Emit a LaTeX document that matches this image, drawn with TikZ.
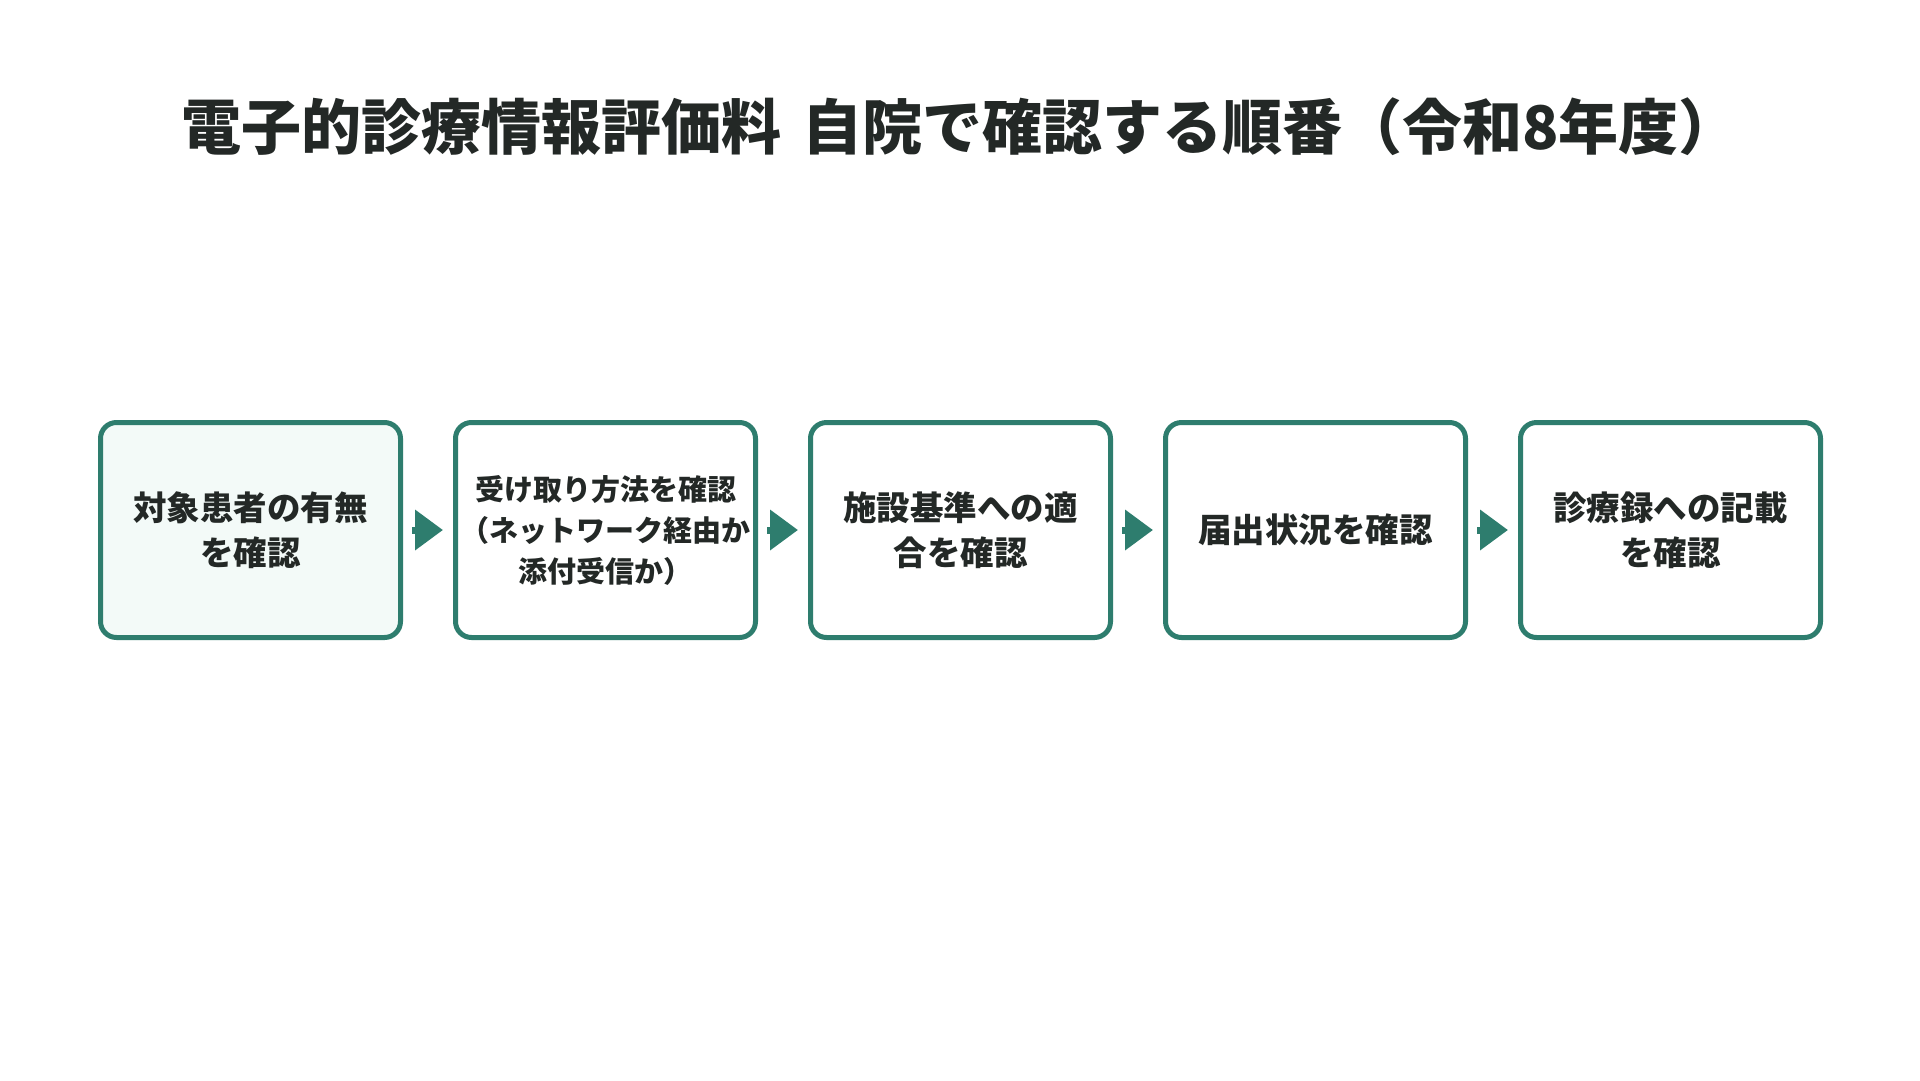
\documentclass[tikz,border=0pt]{standalone}
\usepackage{fontspec}
\setmainfont{Noto Sans CJK JP}
\usetikzlibrary{arrows.meta}
\definecolor{flowgreen}{HTML}{2E7D6E}
\definecolor{firstfill}{HTML}{F3FAF8}
\definecolor{inkgray}{HTML}{232826}
\tikzset{
  stepbox/.style={draw=flowgreen, line width=5pt, rounded corners=16pt, fill=white,
    minimum width=300pt, minimum height=215pt, align=center, text=inkgray,
    font=\fontsize{33.5}{45}\selectfont\bfseries},
  box1/.style={fill=firstfill},
  box2/.style={font=\fontsize{29}{41}\selectfont\bfseries},
  flow/.style={draw=flowgreen, line width=7pt, -{Triangle[length=28pt,width=39pt]},
    shorten <=9pt, shorten >=10pt}
}
\begin{document}
\begin{tikzpicture}[x=1pt, y=-1pt]
\useasboundingbox[fill=white] (0,0) rectangle (1920,1080);
\node[text=inkgray, font=\fontsize{60}{72}\selectfont\bfseries] (title) at (960,127)
  {電子的診療情報評価料\hspace{0.35em}自院で確認する順番（令和8年度）};
% the five steps, left to right
\foreach \i/\t in {1/{対象患者の有無\\を確認},
                   2/{受け取り方法を確認\\（ネットワーク経由か\\添付受信か）},
                   3/{施設基準への適\\合を確認},
                   4/{届出状況を確認},
                   5/{診療録への記載\\を確認}}
\node[stepbox, box\i/.try] (s\i) at (250.5+355*\i-355, 530) {\t};
\foreach \i [evaluate=\i as \j using int(\i+1)] in {1,...,4}
\draw[flow] (s\i) -- (s\j);
\end{tikzpicture}
\end{document}
